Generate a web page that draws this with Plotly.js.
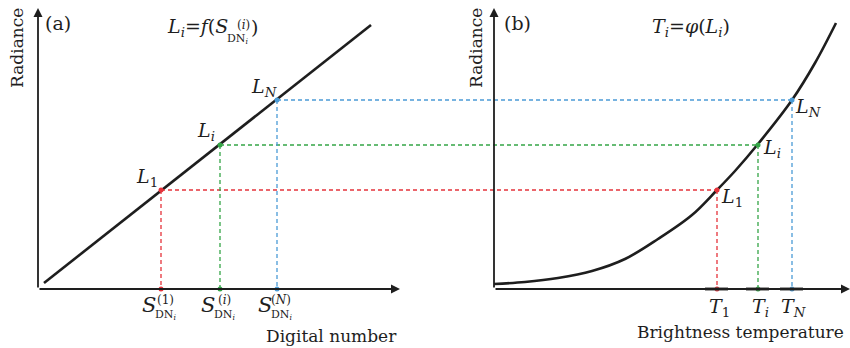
<!DOCTYPE html>
<html>
<head>
<meta charset="utf-8">
<script src="https://cdn.plot.ly/plotly-3.0.1.min.js"></script>
<style>html,body{margin:0;padding:0;background:#fff;}#chart{width:850px;height:348px;}</style>
</head>
<body>
<div id="chart"></div>
<script>
// ---- data (schematic units) ----
const dnLine = [44, 371];             // digital number (panel a)
const radLine = [6, 264];             // radiance along L = f(S)
const tempCurve = [494, 525, 558, 592, 625, 658, 692, 717, 735, 758, 792, 815, 836];
const radCurve  = [5, 7, 11, 18, 30, 50, 74, 99, 118, 145, 189, 226, 266];
const sValues = [161, 220, 277];       // S_DN^(1), S_DN^(i), S_DN^(N)
const tValues = [717, 758, 792];       // T1, Ti, TN
const lValues = [99, 144, 189];        // L1, Li, LN
const supLabels = ['(1)', '(<i>i</i>)', '(<i>N</i>)'];
const lLabels = ['<i>L</i><sub>1</sub>', '<i>L</i><sub><i>i</i></sub>', '<i>L</i><sub><i>N</i></sub>'];
const tLabels = ['<i>T</i><sub>1</sub>', '<i>T</i><sub><i>i</i></sub>', '<i>T</i><sub><i>N</i></sub>'];
const axisOriginA = 38, axisEndA = 400, axisOriginB = 494, axisEndB = 850, yTop = 281;

const colors = ['#e5333b', '#35a547', '#4b9bd6'];
const FONT = 'DejaVu Serif';
const ink = '#1e1e1e';

const traces = [];
traces.push({x: dnLine, y: radLine, mode: 'lines', line: {color: ink, width: 2.6}, hoverinfo: 'skip'});
traces.push({x: tempCurve, y: radCurve, mode: 'lines', line: {color: ink, width: 2.6, shape: 'spline', smoothing: 1}, hoverinfo: 'skip'});

for (let k = 0; k < 3; k++) {
  const c = colors[k];
  traces.push({x: [sValues[k], tValues[k]], y: [lValues[k], lValues[k]], mode: 'lines',
    line: {color: c, width: 1.3, dash: '4px,3px'}, hoverinfo: 'skip'});
  traces.push({x: [sValues[k], sValues[k]], y: [lValues[k], 0], mode: 'lines',
    line: {color: c, width: 1.3, dash: '4px,3px'}, hoverinfo: 'skip'});
  traces.push({x: [tValues[k], tValues[k]], y: [lValues[k], 0], mode: 'lines',
    line: {color: c, width: 1.3, dash: '4px,3px'}, hoverinfo: 'skip'});
  traces.push({x: [sValues[k], sValues[k], tValues[k], tValues[k]], y: [lValues[k], 0, lValues[k], 0],
    mode: 'markers', marker: {color: c, size: 5}, hoverinfo: 'skip'});
  traces.push({x: [tValues[k] - 12, tValues[k] + 11], y: [0, 0], mode: 'lines',
    line: {color: '#3a3a3a', width: 3}, hoverinfo: 'skip'});
}

const ann = [];
function txt(x, y, text, size, opts) {
  ann.push(Object.assign({x: x, y: y, xref: 'x', yref: 'y', text: text, showarrow: false,
    font: {family: FONT, size: size, color: ink}}, opts || {}));
}
function arrow(x, y, ax, ay) {
  ann.push({x: x, y: y, ax: ax, ay: ay, xref: 'x', yref: 'y', axref: 'x', ayref: 'y', text: '',
    showarrow: true, arrowhead: 2, arrowsize: 1, arrowwidth: 1.8, arrowcolor: ink, standoff: 0});
}
arrow(axisOriginA, yTop, axisOriginA, 0);
arrow(axisEndA, 0, axisOriginA, 0);
arrow(axisOriginB, yTop, axisOriginB, 0);
arrow(axisEndB, 0, axisOriginB, 0);

// panel labels & titles
txt(58, 266, '(a)', 19);
txt(165, 262, '<i>L</i><sub><i>i</i></sub>=<i>f</i>(<i>S</i>', 19, {xanchor: 'left'});
txt(243, 264, '(<i>i</i>)', 12);
txt(237, 250, 'DN<sub><i>i</i></sub>', 11);
txt(254, 262, ')', 19);
txt(517, 266, '(b)', 19);
txt(691, 262, '<i>T</i><sub><i>i</i></sub>=<i>φ</i>(<i>L</i><sub><i>i</i></sub>)', 19);

// axis titles
txt(17, 241, 'Radiance', 17, {textangle: -90});
txt(476, 241, 'Radiance', 17, {textangle: -90});
txt(331, -47, 'Digital number', 17);
txt(635, -43, 'Brightness temperature', 17, {xanchor: 'left'});

// tick labels
for (let k = 0; k < 3; k++) {
  txt(sValues[k] - 12, -16, '<i>S</i>', 21);
  txt(sValues[k] + 4, -11, supLabels[k], 12);
  txt(sValues[k] + 4, -26, 'DN<sub><i>i</i></sub>', 11);
  txt(tValues[k] + 2, -18, tLabels[k], 19);
}
const lOffA = [[-14, 13], [-14, 14], [-13, 13]];
const lOffB = [[15, -7], [14, -3], [16, -7]];
for (let k = 0; k < 3; k++) {
  txt(sValues[k] + lOffA[k][0], lValues[k] + lOffA[k][1], lLabels[k], 19);
  txt(tValues[k] + lOffB[k][0], lValues[k] + lOffB[k][1], lLabels[k], 19);
}

const layout = {
  width: 850, height: 348,
  margin: {l: 0, r: 0, t: 0, b: 0},
  paper_bgcolor: '#ffffff', plot_bgcolor: '#ffffff',
  showlegend: false,
  xaxis: {range: [0, 850], visible: false, fixedrange: true},
  yaxis: {range: [-59, 289], visible: false, fixedrange: true},
  annotations: ann
};
Plotly.newPlot('chart', traces, layout, {displayModeBar: false, staticPlot: true});
</script>
</body>
</html>
